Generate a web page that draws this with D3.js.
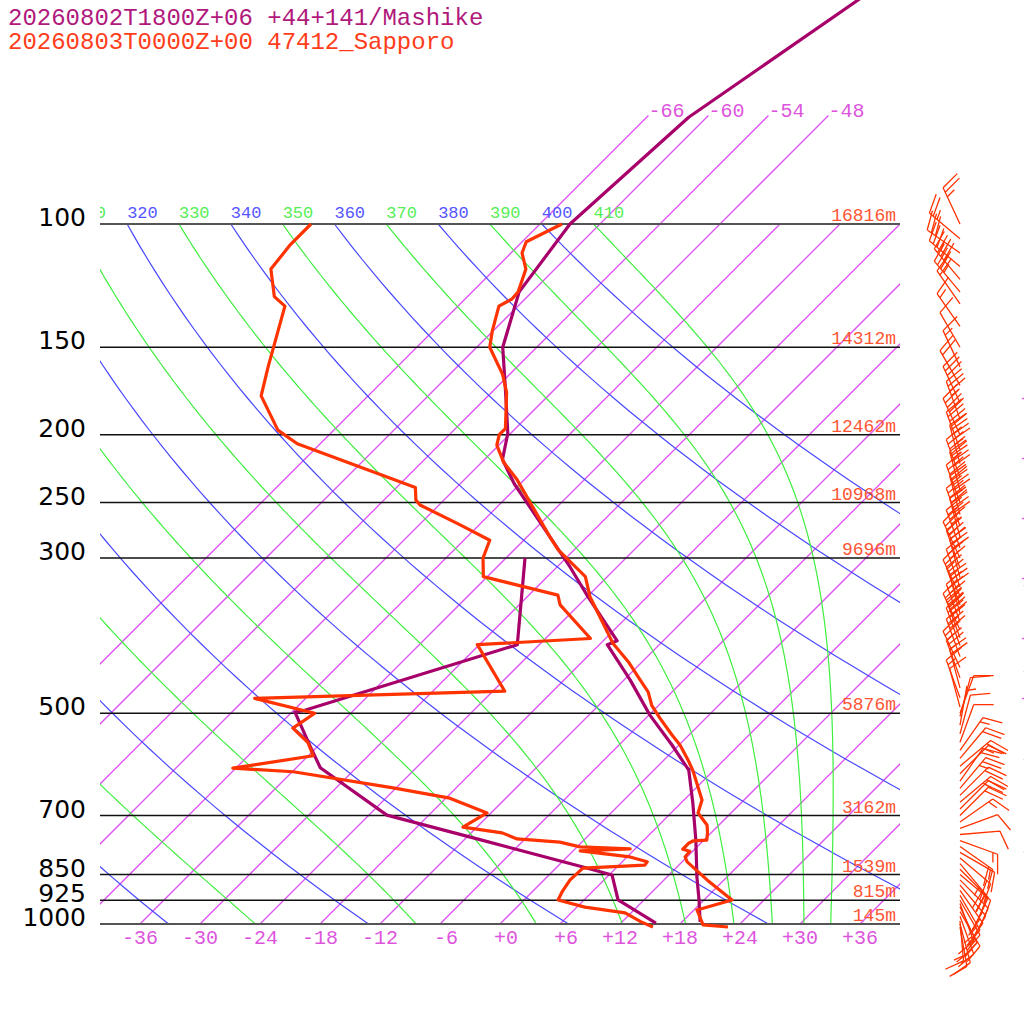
<!DOCTYPE html>
<html>
<head>
<meta charset="utf-8">
<script src="https://cdn.jsdelivr.net/npm/d3@7"></script>
<style>
  body { margin: 0; background: #fff; }
  svg { display: block; }
  .mono { font-family: "Liberation Mono", monospace; }
  .plev { font-family: "DejaVu Sans", sans-serif; font-size: 25px; fill: #000; }
</style>
</head>
<body>
<svg id="chart" width="1024" height="1024"></svg>
<script>
// ---- chart values ----
var titleLines = ["20260802T1800Z+06 +44+141/Mashike", "20260803T0000Z+00 47412_Sapporo"];

var pressureLevels = [100, 150, 200, 250, 300, 500, 700, 850, 925, 1000];
var heightLabels = ["16816m", "14312m", "12462m", "10968m", "9696m", "5876m", "3162m", "1539m", "815m", "145m"];

var isotherms = [-66, -60, -54, -48, -42, -36, -30, -24, -18, -12, -6, 0, 6, 12, 18, 24, 30, 36];
var topIsotherms = [-66, -60, -54, -48];      // these run on up to 70 hPa and carry a label
var axisTemps = [-36, -30, -24, -18, -12, -6, 0, 6, 12, 18, 24, 30, 36];
var edgeIsotherms = [-12, -6, 0, 6, 12, 18, 24, 30];

var dryThetas = [240, 260, 280, 300, 320, 340, 360, 380, 400];
var moistThetas = [250, 270, 290, 310, 330, 350, 370, 390, 410];
var thetaLabels = [310, 320, 330, 340, 350, 360, 370, 380, 390, 400, 410];
var edgeThetas = [340, 360, 380, 400];

// Mashike forecast (purple)
var mashikeP  = [993, 924, 857, 759, 672, 603, 555, 503, 448, 399, 394, 341, 309, 285, 235, 217, 199, 174, 150, 125, 100, 70.4, 47.9, 44];
var mashikeT  = [19.8, 17.5, 15.0, 11.2, 7.2, 3.5, -0.7, -5.9, -11.4, -17.2, -16.6, -23.9, -28.7, -32.8, -42.6, -46.2, -48.3, -52.6, -57.4, -61.3, -63.0, -61.8, -56.6, -55.6];
var mashikeTdP = [997, 924, 851, 829, 759, 699, 598, 558, 498, 495, 399, 300];
var mashikeTd  = [15.5, 9.4, 6.3, 2.6, -10.2, -22.2, -33.6, -36.7, -41.7, -40.9, -26.2, -34.1];

// Sapporo observation (red)
var sapporoP = [1010, 1003, 955, 924, 865, 815, 802, 787, 782, 766, 761, 759, 740, 722, 694, 665, 603, 583, 555, 537, 508, 487, 466, 448, 422, 397, 341, 319, 292, 280, 232, 219, 207, 200, 196, 174, 164, 150, 142, 131, 128, 125, 116, 110, 106, 100];
var sapporoT = [23.1, 20.4, 18.3, 20.8, 16.3, 12.5, 11.8, 11.7, 10.8, 10.8, 11.0, 12.3, 11.6, 10.8, 8.7, 7.8, 3.9, 2.4, 0.1, -1.7, -4.6, -6.7, -8.4, -10.4, -13.4, -16.8, -23.7, -26.2, -31.6, -33.7, -42.7, -45.8, -48.2, -49.0, -49.0, -52.5, -54.7, -58.7, -60.1, -61.9, -61.3, -61.4, -62.9, -64.9, -65.6, -63.8];
var sapporoTdP = [1010, 993, 964, 946, 924, 900, 865, 832, 824, 815, 802, 786, 781, 776, 764, 756, 741, 727, 694, 661, 639, 606, 599, 575, 550, 525, 500, 476, 465, 399, 391, 350, 339, 319, 300, 283, 269, 252, 248, 238, 206, 197, 176, 160, 131, 127, 116, 107, 100];
var sapporoTd  = [15.6, 13.9, 11.4, 6.8, 3.4, 3.0, 2.6, 2.7, 8.6, 8.5, 6.3, 0.7, 5.5, 0.3, -2.2, -6.8, -8.9, -13.4, -12.4, -17.6, -24.3, -35.9, -42.3, -35.5, -37.4, -40.3, -39.6, -47.1, -22.8, -30.2, -19.5, -25.9, -27.1, -36.4, -38.3, -39.4, -43.9, -49.9, -50.8, -52.1, -68.3, -71.6, -76.7, -78.9, -83.3, -85.3, -88.4, -88.9, -88.9];

// winds (Sapporo): pressure hPa, direction deg, speed kt
var windP   = [1010, 1000, 990, 975, 960, 945, 935, 925, 910, 895, 880, 865, 850, 835, 820, 805, 790, 775, 760, 745, 730, 715, 700, 685, 670, 655, 640, 625, 610, 595, 580, 565, 550, 535, 520, 505, 500, 490, 475, 460, 445, 430, 415, 400, 390, 380, 370, 360, 350, 340, 330, 320, 310, 300, 290, 280, 270, 260, 250, 240, 230, 220, 210, 200, 190, 180, 170, 160, 150, 140, 130, 125, 120, 115, 110, 105, 100];
var windDir = [170, 165, 175, 160, 150, 155, 160, 150, 150, 145, 140, 135, 130, 135, 140, 130, 120, 125, 110, 85, 70, 55, 45, 45, 50, 45, 40, 35, 45, 50, 40, 35, 20, 15, 10, 15, 20, 345, 340, 345, 340, 335, 340, 340, 340, 335, 340, 345, 340, 335, 340, 345, 340, 335, 340, 345, 340, 345, 340, 345, 340, 345, 340, 335, 340, 335, 330, 335, 330, 325, 325, 320, 320, 310, 305, 310, 335];
var windSpd = [10, 15, 15, 20, 20, 15, 15, 10, 15, 20, 20, 25, 20, 20, 25, 20, 15, 20, 15, 10, 10, 15, 20, 20, 25, 20, 25, 20, 15, 20, 20, 15, 10, 10, 5, 10, 10, 10, 15, 20, 25, 25, 30, 35, 40, 40, 35, 30, 25, 25, 30, 30, 35, 35, 35, 40, 40, 45, 40, 40, 45, 45, 40, 40, 35, 30, 20, 15, 10, 15, 20, 35, 40, 35, 30, 25, 25];

// ---- scales ----
var y = d3.scaleLog().domain([1000, 100]).range([924, 224]);
var xT = d3.scaleLinear().domain([-40, 40]).range([100, 900]);
var KAPPA = 0.2854;

function skewX(t, p) {
  return xT(t) + (y(1000) - y(p));
}

var profileLine = d3.line()
  .x(function(d) { return skewX(d[1], d[0]); })
  .y(function(d) { return y(d[0]); });

function pairs(ps, ts) {
  return ps.map(function(p, i) { return [p, ts[i]]; });
}

function dryLine(theta) {
  var pts = [];
  for (var i = 0; i <= 60; i++) {
    var p = 100 * Math.pow(10, i / 60);
    pts.push([p, theta * Math.pow(p / 1000, KAPPA) - 273.15]);
  }
  return pts;
}

function moistRate(p, T) {
  var es = 6.112 * Math.exp(17.67 * (T - 273.15) / (T - 29.65));
  var rs = 0.622 * es / (p - es);
  return (287.04 * T + 2.501e6 * rs) / (1005.7 + 2.501e6 * 2.501e6 * rs * 0.622 / (287.04 * T * T));
}

function moistLine(theta) {
  // start at 100 hPa on the dry adiabat of the same theta and go down
  var n = 120, dl = Math.log(10) / n;
  var p = 100, T = theta * Math.pow(0.1, KAPPA);
  var pts = [[p, T - 273.15]];
  for (var i = 0; i < n; i++) {
    var lp = Math.log(p);
    var k1 = moistRate(p, T);
    var k2 = moistRate(Math.exp(lp + dl / 2), T + k1 * dl / 2);
    T = T + k2 * dl;
    p = Math.exp(lp + dl);
    pts.push([p, T - 273.15]);
  }
  return pts;
}

// ---- drawing ----
var svg = d3.select("#chart");

svg.append("defs").append("clipPath").attr("id", "plotclip")
  .append("rect").attr("x", 100).attr("y", 0).attr("width", 800).attr("height", 924);

var grid = svg.append("g").attr("clip-path", "url(#plotclip)");

grid.selectAll(".iso").data(isotherms).enter().append("path")
  .attr("class", "iso")
  .attr("d", function(t) {
    var top = topIsotherms.indexOf(t) >= 0 ? 70 : 100;
    return profileLine([[1000, t], [top, t]]);
  })
  .style("fill", "none")
  .style("stroke", "#dc50f0")
  .style("stroke-width", "1.3px");

grid.selectAll(".dry").data(dryThetas).enter().append("path")
  .attr("class", "dry")
  .attr("d", function(th) { return profileLine(dryLine(th)); })
  .style("fill", "none").style("stroke", "#4848ff").style("stroke-width", "1.2px");

grid.selectAll(".moist").data(moistThetas).enter().append("path")
  .attr("class", "moist")
  .attr("d", function(th) { return profileLine(moistLine(th)); })
  .style("fill", "none").style("stroke", "#3fee3f").style("stroke-width", "1.2px");

grid.selectAll(".thlab").data(thetaLabels).enter().append("text")
  .attr("class", "mono")
  .attr("x", function(th) { return skewX(th * Math.pow(0.1, KAPPA) - 273.15, 100); })
  .attr("y", y(100) - 6)
  .attr("font-size", 17)
  .attr("fill", function(th) { return th % 20 === 0 ? "#5555ff" : "#55ee55"; })
  .text(function(th) { return th; });

// pressure lines
svg.selectAll(".pline").data(pressureLevels).enter().append("line")
  .attr("x1", 100).attr("x2", 900)
  .attr("y1", function(p) { return y(p); }).attr("y2", function(p) { return y(p); })
  .attr("stroke", function(p) { return (p === 100 || p === 1000) ? "#555" : "#111"; })
  .attr("stroke-width", function(p) { return (p === 100 || p === 1000) ? 2.2 : 1.5; });

svg.selectAll(".plab").data(pressureLevels).enter().append("text")
  .attr("class", "plev")
  .attr("x", 86).attr("y", function(p) { return y(p) + 2; })
  .attr("text-anchor", "end")
  .text(function(p) { return p; });

svg.selectAll(".hlab").data(heightLabels).enter().append("text")
  .attr("class", "mono")
  .attr("x", 896).attr("y", function(h, i) { return y(pressureLevels[i]) - 3; })
  .attr("text-anchor", "end").attr("font-size", 18).attr("fill", "#ff5533")
  .text(function(h) { return h; });

// temperature labels along the bottom
svg.selectAll(".tlab").data(axisTemps).enter().append("text")
  .attr("class", "mono")
  .attr("x", function(t) { return xT(t) + 18; })
  .attr("y", 944)
  .attr("text-anchor", "end").attr("font-size", 20).attr("fill", "#dd55dd")
  .text(function(t) { return (t < 0 ? "-" : "+") + Math.abs(t); });

svg.selectAll(".toplab").data(topIsotherms).enter().append("text")
  .attr("class", "mono")
  .attr("x", function(t) { return skewX(t, 70); })
  .attr("y", y(70) + 1)
  .attr("font-size", 20).attr("fill", "#dd55dd")
  .text(function(t) { return "-" + Math.abs(t); });

// labels that sit beyond the right edge of the page (only their first pixel shows)
var EDGE = 1021;
svg.selectAll(".edgeiso").data(edgeIsotherms).enter().append("text")
  .attr("class", "mono")
  .attr("x", EDGE)
  .attr("y", function(t) { return y(1000) - (EDGE - xT(t)) + 3; })
  .attr("font-size", 20).attr("fill", "#dd55dd")
  .text(function(t) { return (t < 0 ? "-" : "+") + Math.abs(t); });

function dryEdgeP(theta) {
  var lo = 100, hi = 1000;
  for (var i = 0; i < 40; i++) {
    var mid = Math.sqrt(lo * hi);
    var x = skewX(theta * Math.pow(mid / 1000, KAPPA) - 273.15, mid);
    if (x < EDGE) lo = mid; else hi = mid;
  }
  return lo;
}
svg.selectAll(".edgeth").data(edgeThetas).enter().append("text")
  .attr("class", "mono")
  .attr("x", EDGE)
  .attr("y", function(th) { return y(dryEdgeP(th)) + 3; })
  .attr("font-size", 17).attr("fill", "#5555ff")
  .text(function(th) { return "-" + th; });

// soundings
var profiles = [
  { p: mashikeP, v: mashikeT, color: "#a8006a" },
  { p: mashikeTdP, v: mashikeTd, color: "#a8006a" },
  { p: sapporoP, v: sapporoT, color: "#ff3300" },
  { p: sapporoTdP, v: sapporoTd, color: "#ff3300" }
];
svg.selectAll(".snd").data(profiles).enter().append("path")
  .attr("d", function(d) { return profileLine(pairs(d.p, d.v)); })
  .attr("fill", "none")
  .attr("stroke", function(d) { return d.color; })
  .attr("stroke-width", 3.2)
  .attr("stroke-linejoin", "round");

// wind barbs
function barbPath(p, dir, spd) {
  var bx = 960, by = y(p), L = 40;
  var a = dir * Math.PI / 180, b = (dir + 70) * Math.PI / 180;
  var ux = Math.sin(a), uy = -Math.cos(a);
  var vx = Math.sin(b), vy = -Math.cos(b);
  var path = d3.path();
  path.moveTo(bx, by);
  path.lineTo(bx + ux * L, by + uy * L);
  var s = Math.round(spd / 5) * 5;
  var pos = L;
  while (s >= 50) {
    var px = bx + ux * pos, py = by + uy * pos;
    path.moveTo(px, py);
    path.lineTo(px + vx * 20, py + vy * 20);
    path.lineTo(bx + ux * (pos - 7), by + uy * (pos - 7));
    pos -= 9; s -= 50;
  }
  while (s >= 10) {
    var qx = bx + ux * pos, qy = by + uy * pos;
    path.moveTo(qx, qy);
    path.lineTo(qx + vx * 20, qy + vy * 20);
    pos -= 5; s -= 10;
  }
  if (s >= 5) {
    if (pos === L) pos -= 5;
    var hx = bx + ux * pos, hy = by + uy * pos;
    path.moveTo(hx, hy);
    path.lineTo(hx + vx * 10, hy + vy * 10);
  }
  return path.toString();
}

svg.append("g").selectAll("path").data(windP).enter().append("path")
  .attr("d", function(p, i) { return barbPath(p, windDir[i], windSpd[i]); })
  .attr("fill", "none").attr("stroke", "#ff3300").attr("stroke-width", 1.3);

// title
svg.selectAll(".title").data(titleLines).enter().append("text")
  .attr("class", "mono")
  .attr("x", 8).attr("y", function(d, i) { return 25 + i * 24; })
  .attr("font-size", 24)
  .attr("fill", function(d, i) { return i === 0 ? "#b0187c" : "#ff3d1a"; })
  .text(function(d) { return d; });
</script>
</body>
</html>
